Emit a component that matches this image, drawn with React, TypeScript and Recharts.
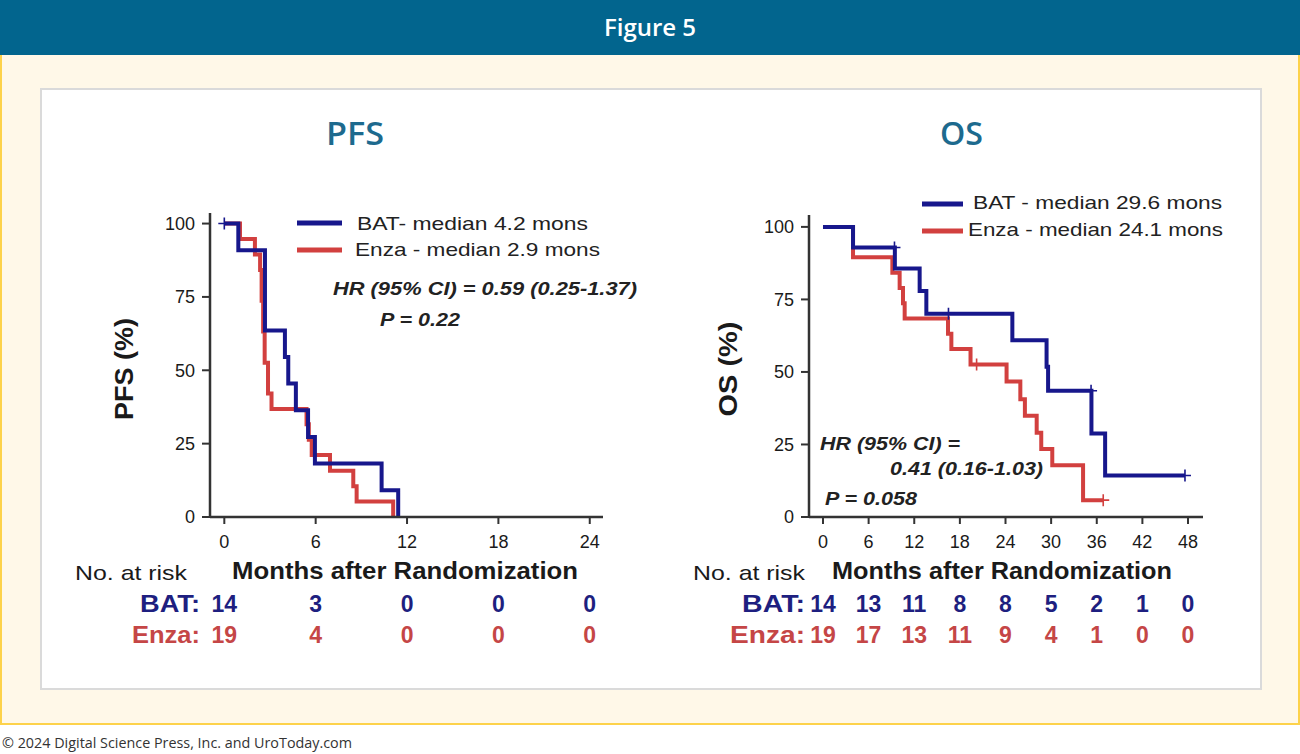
import { LineChart, Line, XAxis, YAxis } from "recharts";

const BLUE = "#17178C";
const RED = "#D2403F";
const RISK_BLUE = "#1E1F80";
const RISK_RED = "#C54646";
const AXIS = "#333333";

// Kaplan-Meier steps: t = months, s = % event free, c = censored mark
const pfsBat = [
  { t: 0, s: 100, c: true },
  { t: 0.92, s: 90.9 },
  { t: 2.67, s: 63.6 },
  { t: 3.98, s: 54.5 },
  { t: 4.2, s: 45.5 },
  { t: 4.7, s: 36.4 },
  { t: 5.5, s: 27.3 },
  { t: 5.95, s: 18.2 },
  { t: 10.33, s: 9.1 },
  { t: 11.42, s: 0 },
];

const pfsEnza = [
  { t: 0, s: 100 },
  { t: 1.03, s: 94.7 },
  { t: 2.01, s: 89.5 },
  { t: 2.35, s: 84.2 },
  { t: 2.45, s: 73.7 },
  { t: 2.55, s: 63.2 },
  { t: 2.65, s: 52.6 },
  { t: 2.87, s: 42.1 },
  { t: 3.1, s: 36.8 },
  { t: 5.4, s: 31.6 },
  { t: 5.55, s: 26.3 },
  { t: 5.74, s: 21.1 },
  { t: 6.94, s: 15.8 },
  { t: 8.47, s: 10.5 },
  { t: 8.69, s: 5.3 },
  { t: 11.09, s: 0 },
];

const osBat = [
  { t: 0, s: 100 },
  { t: 3.95, s: 92.9 },
  { t: 9.4, s: 92.9, c: true },
  { t: 9.45, s: 85.7 },
  { t: 12.71, s: 77.9 },
  { t: 13.59, s: 70.1 },
  { t: 16.5, s: 70.1, c: true },
  { t: 24.9, s: 60.9 },
  { t: 29.4, s: 51.8 },
  { t: 29.6, s: 43.5 },
  { t: 35.25, s: 43.5, c: true },
  { t: 35.3, s: 28.8 },
  { t: 37.1, s: 14.3 },
  { t: 47.6, s: 14.3, c: true },
];

const osEnza = [
  { t: 0, s: 100 },
  { t: 3.95, s: 89.5 },
  { t: 9.12, s: 84.2 },
  { t: 10.08, s: 78.9 },
  { t: 10.52, s: 73.7 },
  { t: 10.74, s: 68.4 },
  { t: 16.44, s: 63.2 },
  { t: 16.88, s: 57.9 },
  { t: 19.4, s: 52.6 },
  { t: 20.2, s: 52.6, c: true },
  { t: 24.14, s: 46.7 },
  { t: 25.95, s: 40.6 },
  { t: 26.55, s: 34.9 },
  { t: 28.1, s: 29.0 },
  { t: 28.7, s: 23.4 },
  { t: 30.15, s: 17.8 },
  { t: 34.2, s: 5.8 },
  { t: 36.85, s: 5.8, c: true },
];

const pfsTicks = [0, 6, 12, 18, 24];
const osTicks = [0, 6, 12, 18, 24, 30, 36, 42, 48];
const yTicks = [0, 25, 50, 75, 100];

const pfsRiskBat = [14, 3, 0, 0, 0];
const pfsRiskEnza = [19, 4, 0, 0, 0];
const osRiskBat = [14, 13, 11, 8, 8, 5, 2, 1, 0];
const osRiskEnza = [19, 17, 13, 11, 9, 4, 1, 0, 0];

const FONT = "'Liberation Sans', Arial, sans-serif";

const censorDot = (color: string) => (props: any) => {
  const { cx, cy, payload, index } = props;
  if (!payload || !payload.c || cx == null) return <g key={`n${index}`} />;
  return (
    <path
      key={`c${index}`}
      d={`M${cx - 6},${cy}h12M${cx},${cy - 6}v12`}
      stroke={color}
      strokeWidth={1.6}
      fill="none"
    />
  );
};

interface KMProps {
  bat: { t: number; s: number; c?: boolean }[];
  enza: { t: number; s: number; c?: boolean }[];
  ticks: number[];
  xDomain: [number, number];
  yMax: number;
  riskBat: number[];
  riskEnza: number[];
  margin: { top: number; right: number; left: number; bottom: number };
  left: number;
}

const KMChart = ({ bat, enza, ticks, xDomain, yMax, riskBat, riskEnza, margin, left }: KMProps) => {
  const riskLabel = (arr: number[]) => (v: number) => {
    const i = ticks.indexOf(v);
    return i >= 0 ? String(arr[i]) : "";
  };
  return (
    <div style={{ position: "absolute", left, top: 190, width: 540, height: 470 }}>
      <LineChart width={540} height={470} margin={margin}>
        <XAxis
          xAxisId={0}
          type="number"
          dataKey="t"
          domain={xDomain}
          allowDataOverflow
          ticks={ticks}
          interval={0}
          height={70}
          tickSize={7}
          tickMargin={11}
          axisLine={{ stroke: AXIS, strokeWidth: 2.5 }}
          tickLine={{ stroke: AXIS, strokeWidth: 2 }}
          tick={{ fill: "#1a1a1a", fontSize: 18 }}
        />
        {/* number-at-risk rows, drawn as extra bottom axes on the same month scale */}
        <XAxis
          xAxisId={1}
          type="number"
          dataKey="t"
          domain={xDomain}
          allowDataOverflow
          ticks={ticks}
          interval={0}
          height={31}
          tickSize={0}
          tickMargin={9}
          axisLine={false}
          tickLine={false}
          tickFormatter={riskLabel(riskBat)}
          tick={{ fill: RISK_BLUE, fontSize: 23, fontWeight: 700 }}
        />
        <XAxis
          xAxisId={2}
          type="number"
          dataKey="t"
          domain={xDomain}
          allowDataOverflow
          ticks={ticks}
          interval={0}
          height={33}
          tickSize={0}
          tickMargin={9}
          axisLine={false}
          tickLine={false}
          tickFormatter={riskLabel(riskEnza)}
          tick={{ fill: RISK_RED, fontSize: 23, fontWeight: 700 }}
        />
        <YAxis
          type="number"
          domain={[0, yMax]}
          allowDataOverflow
          ticks={yTicks}
          interval={0}
          width={60}
          tickSize={8}
          tickMargin={7}
          axisLine={{ stroke: AXIS, strokeWidth: 2.5 }}
          tickLine={{ stroke: AXIS, strokeWidth: 2 }}
          tick={{ fill: "#1a1a1a", fontSize: 18 }}
        />
        {/* invisible series so the at-risk axes get data */}
        <Line xAxisId={1} data={bat} dataKey="s" stroke="none" dot={false} activeDot={false} isAnimationActive={false} />
        <Line xAxisId={2} data={enza} dataKey="s" stroke="none" dot={false} activeDot={false} isAnimationActive={false} />
        <Line
          data={enza}
          dataKey="s"
          type="stepAfter"
          stroke={RED}
          strokeWidth={4}
          dot={censorDot(RED)}
          activeDot={false}
          isAnimationActive={false}
        />
        <Line
          data={bat}
          dataKey="s"
          type="stepAfter"
          stroke={BLUE}
          strokeWidth={4}
          dot={censorDot(BLUE)}
          activeDot={false}
          isAnimationActive={false}
        />
      </LineChart>
    </div>
  );
};

const T = (p: any) => <text fontFamily={FONT} lengthAdjust="spacingAndGlyphs" {...p} />;

export default function App() {
  return (
    <div style={{ position: "absolute", left: 0, top: 0, width: 1300, height: 754, background: "#fff", fontFamily: FONT, overflow: "hidden" }}>
      <div style={{ position: "absolute", left: 0, top: 0, width: 1300, height: 55, background: "#02658E" }} />
      <div
        style={{
          position: "absolute", left: 0, top: 55, width: 1300, height: 670, boxSizing: "border-box",
          background: "#FFF8E8", borderLeft: "2px solid #FDD24A", borderRight: "2px solid #FDD24A", borderBottom: "2px solid #FDD24A",
        }}
      />
      <div
        style={{
          position: "absolute", left: 40, top: 88, width: 1222, height: 602, boxSizing: "border-box",
          background: "#fff", border: "2px solid #DADADA",
        }}
      />

      <KMChart
        left={100}
        bat={pfsBat}
        enza={pfsEnza}
        ticks={pfsTicks}
        xDomain={[-0.94, 24.87]}
        yMax={103.6}
        riskBat={pfsRiskBat}
        riskEnza={pfsRiskEnza}
        margin={{ top: 23, right: 37, left: 50, bottom: 9 }}
      />
      <KMChart
        left={700}
        bat={osBat}
        enza={osEnza}
        ticks={osTicks}
        xDomain={[-1.84, 49.97]}
        yMax={104.1}
        riskBat={osRiskBat}
        riskEnza={osRiskEnza}
        margin={{ top: 25, right: 37, left: 49, bottom: 9 }}
      />

      <svg width={1300} height={754} style={{ position: "absolute", left: 0, top: 0, pointerEvents: "none" }}>
        <text x={650} y={36} textAnchor="middle" fill="#fff" fontFamily="'Open Sans', sans-serif" fontWeight={600} fontSize={24}>
          Figure 5
        </text>
        <T x={2} y={748} fontFamily="'Open Sans', sans-serif" fontSize={15} fill="#333" textLength={350}>
          © 2024 Digital Science Press, Inc. and UroToday.com
        </T>

        <T x={326} y={145} fontFamily="'Open Sans', sans-serif" fontWeight={600} fontSize={32} fill="#1D6A8E" textLength={58}>PFS</T>
        <T x={940} y={145} fontFamily="'Open Sans', sans-serif" fontWeight={600} fontSize={32} fill="#1D6A8E" textLength={43}>OS</T>

        {/* PFS legend + stats */}
        <line x1={297} x2={342} y1={223} y2={223} stroke={BLUE} strokeWidth={5} />
        <line x1={297} x2={342} y1={250} y2={250} stroke={RED} strokeWidth={5} />
        <T x={357} y={230} fontSize={19} fill="#222" textLength={231}>BAT- median 4.2 mons</T>
        <T x={355} y={256} fontSize={19} fill="#222" textLength={245}>Enza - median 2.9 mons</T>
        <T x={333} y={295} fontSize={19} fontStyle="italic" fontWeight={700} fill="#222" textLength={304}>HR (95% CI) = 0.59 (0.25-1.37)</T>
        <T x={380} y={326} fontSize={19} fontStyle="italic" fontWeight={700} fill="#222" textLength={80}>P = 0.22</T>

        {/* OS legend + stats */}
        <line x1={922} x2={963} y1={204} y2={204} stroke={BLUE} strokeWidth={5} />
        <line x1={922} x2={963} y1={231} y2={231} stroke={RED} strokeWidth={5} />
        <T x={973} y={209} fontSize={19} fill="#222" textLength={249}>BAT - median 29.6 mons</T>
        <T x={968} y={236} fontSize={19} fill="#222" textLength={255}>Enza - median 24.1 mons</T>
        <T x={820} y={450} fontSize={19} fontStyle="italic" fontWeight={700} fill="#222" textLength={140}>HR (95% CI) =</T>
        <T x={890} y={475} fontSize={19} fontStyle="italic" fontWeight={700} fill="#222" textLength={153}>0.41 (0.16-1.03)</T>
        <T x={825} y={505} fontSize={19} fontStyle="italic" fontWeight={700} fill="#222" textLength={92}>P = 0.058</T>

        {/* axis titles */}
        <T x={0} y={0} transform="translate(133,369) rotate(-90)" textAnchor="middle" fontSize={25} fontWeight={700} fill="#1a1a1a" textLength={102}>PFS (%)</T>
        <T x={0} y={0} transform="translate(737,369) rotate(-90)" textAnchor="middle" fontSize={25} fontWeight={700} fill="#1a1a1a" textLength={95}>OS (%)</T>
        <T x={232} y={579} fontSize={24} fontWeight={700} fill="#1a1a1a" textLength={346}>Months after Randomization</T>
        <T x={832} y={579} fontSize={24} fontWeight={700} fill="#1a1a1a" textLength={340}>Months after Randomization</T>

        {/* at-risk row labels */}
        <T x={75} y={580} fontSize={21} fill="#1a1a1a" textLength={112}>No. at risk</T>
        <T x={693} y={580} fontSize={21} fill="#1a1a1a" textLength={112}>No. at risk</T>
        <T x={140} y={612} fontSize={23} fontWeight={700} fill={RISK_BLUE} textLength={60}>BAT:</T>
        <T x={132} y={643} fontSize={23} fontWeight={700} fill={RISK_RED} textLength={68}>Enza:</T>
        <T x={742} y={612} fontSize={23} fontWeight={700} fill={RISK_BLUE} textLength={63}>BAT:</T>
        <T x={730} y={643} fontSize={23} fontWeight={700} fill={RISK_RED} textLength={75}>Enza:</T>
      </svg>
    </div>
  );
}
